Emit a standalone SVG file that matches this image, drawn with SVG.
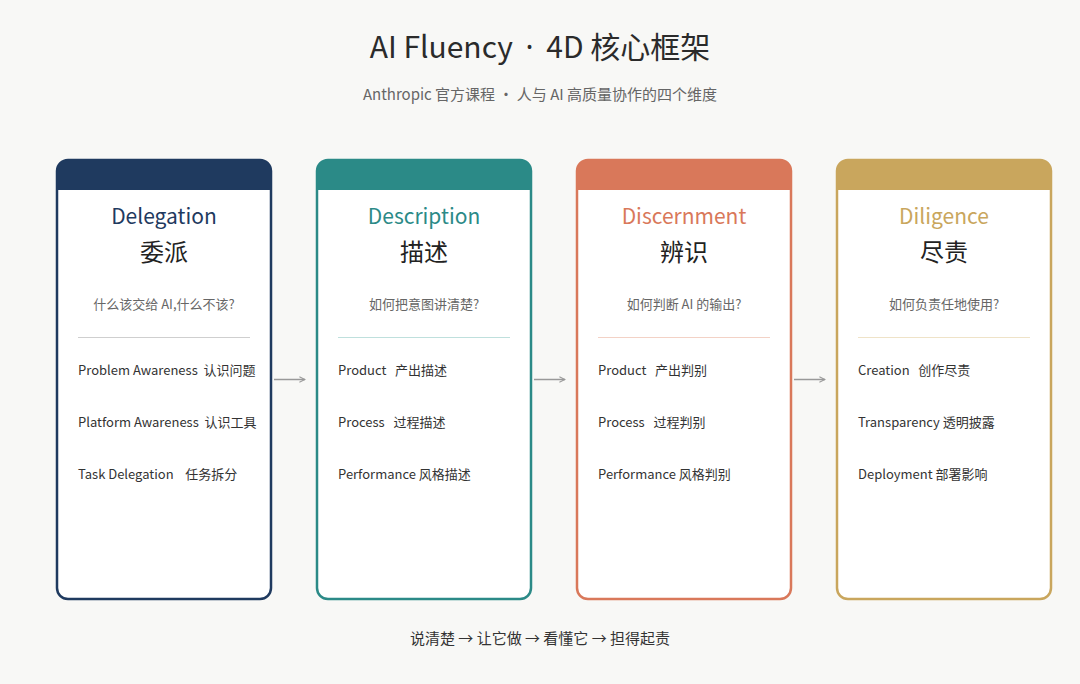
<svg xmlns="http://www.w3.org/2000/svg" width="1080" height="684" viewBox="0 0 1080 684">
<style>
text{font-family:"Noto Sans CJK SC","Noto Sans",sans-serif;}
.t{font-size:30px;fill:#2b2b2b;text-anchor:middle;}
.dot{font-family:"Noto Sans",sans-serif;}
.st{font-size:15px;fill:#666;text-anchor:middle;}
.en{font-size:21px;text-anchor:middle;}
.zh{font-size:24px;fill:#222;text-anchor:middle;}
.q{font-size:13px;fill:#666;text-anchor:middle;}
.it{font-size:13px;fill:#333;white-space:pre;}
.card{fill:#fff;stroke-width:2.5;}
.ft{font-size:15px;fill:#333;text-anchor:middle;}
.arr{stroke:#999;stroke-width:1.5;fill:none;marker-end:url(#ah);}
</style>
<defs>
<marker id="ah" viewBox="0 0 10 10" refX="9" refY="5" markerWidth="7" markerHeight="7" orient="auto" markerUnits="userSpaceOnUse"><path d="M1,1 L9,5 L1,9" fill="none" stroke="#999" stroke-width="1.5"/></marker>
</defs>
<rect width="1080" height="684" fill="#f8f8f6"/>
<text class="t" x="540" y="58" style="white-space:pre">AI Fluency <tspan class="dot" dx="6">·</tspan><tspan dx="6"> 4D 核心框架</tspan></text>
<text class="st" x="540" y="100">Anthropic 官方课程 · 人与 AI 高质量协作的四个维度</text>

<g id="delegation">
<rect class="card" x="57" y="160" width="214" height="439" rx="11" stroke="#1f3a5f"/>
<path d="M57,190 V171 a11,11 0 0 1 11,-11 H260 a11,11 0 0 1 11,11 V190 Z" fill="#1f3a5f"/>
<text class="en" x="164" y="224" fill="#1f3a5f">Delegation</text>
<text class="zh" x="164" y="261">委派</text>
<text class="q" x="164" y="309">什么该交给 AI,什么不该?</text>
<line x1="78" y1="337.5" x2="250" y2="337.5" stroke="#cfcfcf" stroke-width="1"/>
<text class="it" x="78" y="375">Problem Awareness  认识问题</text>
<text class="it" x="78" y="427">Platform Awareness  认识工具</text>
<text class="it" x="78" y="479">Task Delegation    任务拆分</text>
</g>

<g id="description">
<rect class="card" x="317" y="160" width="214" height="439" rx="11" stroke="#2b8a87"/>
<path d="M317,190 V171 a11,11 0 0 1 11,-11 H520 a11,11 0 0 1 11,11 V190 Z" fill="#2b8a87"/>
<text class="en" x="424" y="224" fill="#2b8a87">Description</text>
<text class="zh" x="424" y="261">描述</text>
<text class="q" x="424" y="309">如何把意图讲清楚?</text>
<line x1="338" y1="337.5" x2="510" y2="337.5" stroke="#bfe0dd" stroke-width="1"/>
<text class="it" x="338" y="375">Product   产出描述</text>
<text class="it" x="338" y="427">Process   过程描述</text>
<text class="it" x="338" y="479">Performance 风格描述</text>
</g>

<g id="discernment">
<rect class="card" x="577" y="160" width="214" height="439" rx="11" stroke="#d9785a"/>
<path d="M577,190 V171 a11,11 0 0 1 11,-11 H780 a11,11 0 0 1 11,11 V190 Z" fill="#d9785a"/>
<text class="en" x="684" y="224" fill="#d9785a">Discernment</text>
<text class="zh" x="684" y="261">辨识</text>
<text class="q" x="684" y="309">如何判断 AI 的输出?</text>
<line x1="598" y1="337.5" x2="770" y2="337.5" stroke="#f3d2c6" stroke-width="1"/>
<text class="it" x="598" y="375">Product   产出判别</text>
<text class="it" x="598" y="427">Process   过程判别</text>
<text class="it" x="598" y="479">Performance 风格判别</text>
</g>

<g id="diligence">
<rect class="card" x="837" y="160" width="214" height="439" rx="11" stroke="#c9a65d"/>
<path d="M837,190 V171 a11,11 0 0 1 11,-11 H1040 a11,11 0 0 1 11,11 V190 Z" fill="#c9a65d"/>
<text class="en" x="944" y="224" fill="#c9a65d">Diligence</text>
<text class="zh" x="944" y="261">尽责</text>
<text class="q" x="944" y="309">如何负责任地使用?</text>
<line x1="858" y1="337.5" x2="1030" y2="337.5" stroke="#efe3c8" stroke-width="1"/>
<text class="it" x="858" y="375">Creation   创作尽责</text>
<text class="it" x="858" y="427">Transparency 透明披露</text>
<text class="it" x="858" y="479">Deployment 部署影响</text>
</g>

<g id="connectors">
<line class="arr" x1="274" y1="379.5" x2="305" y2="379.5"/>
<line class="arr" x1="534" y1="379.5" x2="565" y2="379.5"/>
<line class="arr" x1="794" y1="379.5" x2="825" y2="379.5"/>
</g>

<text class="ft" x="540" y="644">说清楚 → 让它做 → 看懂它 → 担得起责</text>
</svg>
